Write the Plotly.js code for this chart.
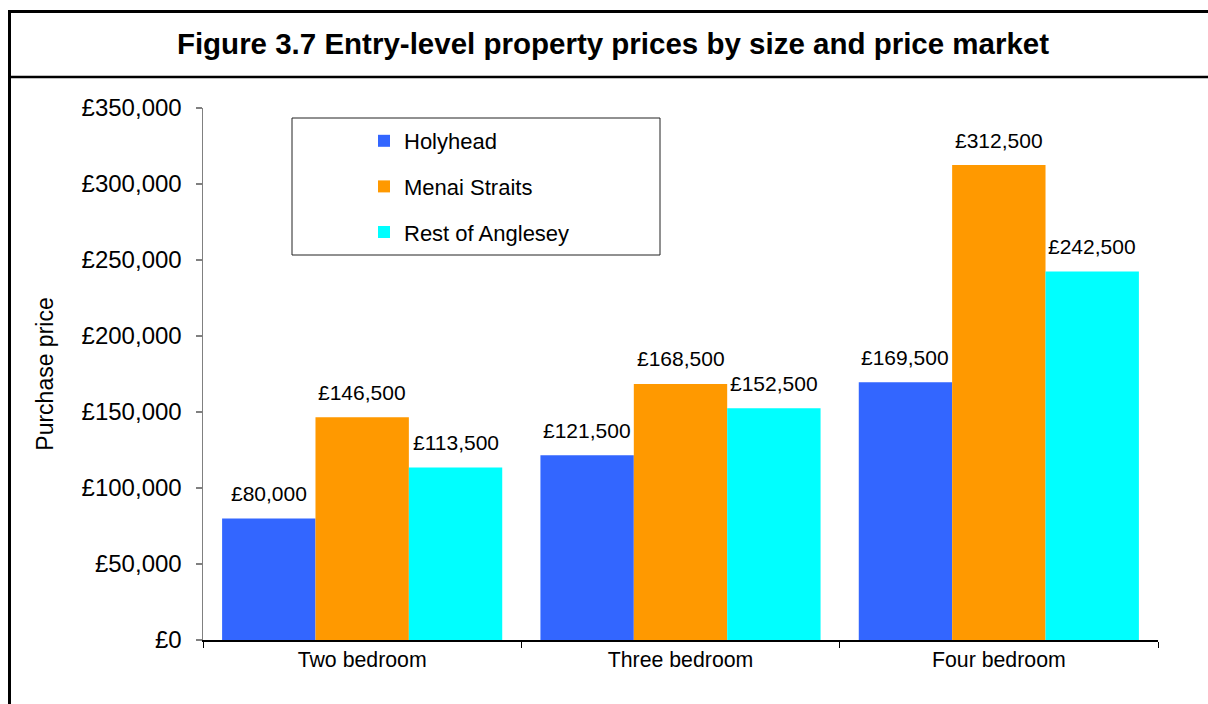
<!DOCTYPE html>
<html>
<head>
<meta charset="utf-8">
<script src="https://cdn.plot.ly/plotly-3.0.1.min.js"></script>
<style>html,body{margin:0;padding:0;background:#fff;}#chart{width:1208px;height:704px;}</style>
</head>
<body>
<div id="chart"></div>
<script>
const categories = ['Two bedroom', 'Three bedroom', 'Four bedroom'];
const seriesNames = ['Holyhead', 'Menai Straits', 'Rest of Anglesey'];
const holyhead = [80000, 121500, 169500];
const menaiStraits = [146500, 168500, 312500];
const restOfAnglesey = [113500, 152500, 242500];
const yTickValues = [0, 50000, 100000, 150000, 200000, 250000, 300000, 350000];
const yTickLabels = ['£0', '£50,000', '£100,000', '£150,000', '£200,000', '£250,000', '£300,000', '£350,000'];

const colors = ['#3366FF', '#FF9900', '#00FFFF'];
const allSeries = [holyhead, menaiStraits, restOfAnglesey];
const FONT = 'Liberation Sans, Arial, sans-serif';

const W = 1208, H = 704;
const margin = {l: 203, r: 50, t: 108, b: 64};
const plotW = W - margin.l - margin.r;
const plotH = H - margin.t - margin.b;
const bargap = 0.12;
const barPx = (plotW / categories.length) * (1 - bargap) / allSeries.length;

const px = x => (x - margin.l) / plotW;
const py = y => (H - margin.b - y) / plotH;

const fmt = v => '£' + v.toLocaleString('en-GB');

const traces = allSeries.map((vals, i) => ({
  type: 'bar',
  name: seriesNames[i],
  x: categories,
  y: vals,
  marker: {color: colors[i], line: {width: 0}},
  legendgroup: 'g' + i,
  hoverinfo: 'none'
}));

const annotations = [];
allSeries.forEach((vals, i) => {
  vals.forEach((v, j) => {
    annotations.push({
      xref: 'x', yref: 'y', x: categories[j], y: v,
      text: fmt(v), showarrow: false,
      xshift: (i - 1) * barPx, yshift: 25,
      yanchor: 'middle', xanchor: 'center',
      font: {family: FONT, size: 21, color: '#000'}
    });
  });
});

const shapes = [
  {type: 'rect', xref: 'paper', yref: 'paper', x0: px(9.5), x1: px(1250), y0: py(760), y1: py(11.5),
   line: {color: '#000', width: 3}, fillcolor: 'rgba(0,0,0,0)', layer: 'above'},
  {type: 'line', xref: 'paper', yref: 'paper', x0: px(9.5), x1: px(1250), y0: py(77), y1: py(77),
   line: {color: '#000', width: 2.5}, layer: 'above'},
  {type: 'rect', xref: 'paper', yref: 'paper', x0: px(292), x1: px(660), y0: py(255), y1: py(118),
   line: {color: '#222', width: 1}, fillcolor: 'rgba(0,0,0,0)', layer: 'above'}
];

const layout = {
  width: W, height: H,
  margin: margin,
  paper_bgcolor: '#fff', plot_bgcolor: '#fff',
  font: {family: FONT, color: '#000'},
  title: {
    text: '<b>Figure 3.7 Entry-level property prices by size and price market</b>',
    font: {family: FONT, size: 29.5, color: '#000'},
    x: 613 / W, xref: 'container', xanchor: 'center',
    y: 1 - 44 / H, yref: 'container', yanchor: 'middle'
  },
  barmode: 'group', bargap: bargap, bargroupgap: 0,
  showlegend: true,
  legend: {
    x: px(364), y: py(120), xanchor: 'left', yanchor: 'top',
    bgcolor: 'rgba(0,0,0,0)', borderwidth: 0,
    font: {family: FONT, size: 22, color: '#000'},
    traceorder: 'grouped', tracegroupgap: 14,
    itemclick: false, itemdoubleclick: false
  },
  xaxis: {
    type: 'category',
    showline: true, linecolor: '#000', linewidth: 1.5,
    ticks: 'outside', tickson: 'boundaries', ticklen: 6, tickcolor: '#000', tickwidth: 1,
    tickfont: {family: FONT, size: 21.3, color: '#000'},
    showgrid: false, zeroline: false, fixedrange: true
  },
  yaxis: {
    range: [0, 350000], tickmode: 'array', tickvals: yTickValues, ticktext: yTickLabels,
    showline: true, linecolor: '#808080', linewidth: 1.5,
    ticks: 'outside', ticklen: 6, tickcolor: '#808080', tickwidth: 1.5,
    ticklabelstandoff: 9,
    tickfont: {family: FONT, size: 24, color: '#000'},
    showgrid: false, zeroline: false, fixedrange: true,
    title: {text: 'Purchase price', font: {family: FONT, size: 23, color: '#000'}, standoff: 21}
  },
  annotations: annotations,
  shapes: shapes
};

Plotly.newPlot('chart', traces, layout, {displayModeBar: false, staticPlot: true});
</script>
</body>
</html>
